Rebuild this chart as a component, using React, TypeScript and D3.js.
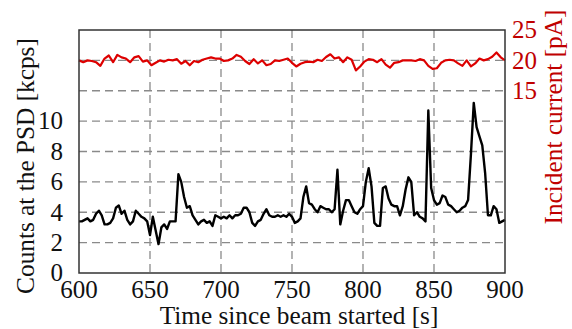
import * as d3 from 'd3';

// sampled every 2 s from 600 s to 900 s
const countStart = 600;
const countStep = 2;
const countValues = [
  3.4, 3.4, 3.5, 3.6, 3.4, 3.5, 3.9, 4.1, 3.8, 3.2, 3.2, 3.3, 3.6, 4.3, 4.45, 3.9, 4.1, 3.5, 3.2, 3.4,
  4.1, 3.9, 3.7, 3.6, 3.4, 2.5, 3.7, 2.8, 1.9, 3.0, 3.2, 2.9, 3.4, 3.4, 3.4, 6.5, 6.0, 5.0, 4.3, 4.4,
  3.8, 3.5, 3.2, 3.4, 3.5, 3.3, 3.4, 3.1, 3.8, 3.7, 3.6, 3.7, 3.6, 3.8, 3.6, 3.8, 3.8, 3.9, 4.3, 4.3,
  4.0, 3.3, 3.1, 3.4, 3.5, 3.9, 4.2, 3.8, 3.7, 3.7, 3.8, 3.7, 3.8, 3.7, 3.9, 3.7, 3.3, 3.4, 3.6, 5.0,
  5.7, 4.6, 4.5, 4.2, 4.0, 4.4, 4.3, 4.2, 4.2, 4.0, 4.2, 6.8, 3.2, 4.1, 4.8, 4.8, 4.4, 4.0, 3.9, 4.2,
  4.4, 6.0, 6.9, 5.7, 3.3, 3.1, 3.1, 5.6, 5.7, 4.9, 4.5, 4.4, 4.4, 3.8, 4.4, 5.5, 6.3, 6.0, 3.8, 4.0,
  3.7, 3.6, 3.4, 10.7, 5.6, 4.8, 4.5, 4.6, 5.1, 5.0, 4.5, 4.4, 4.2, 4.0, 4.1, 4.3, 4.4, 4.8, 7.8, 11.2,
  9.6, 9.0, 8.4, 6.6, 3.8, 3.8, 4.4, 4.2, 3.3, 3.4, 3.5,
];

// sampled every 3 s from 600 s to 900 s
const currentStart = 600;
const currentStep = 3;
const currentValues = [
  20.0, 19.7, 20.0, 19.9, 19.7, 19.1, 20.3, 20.8, 19.7, 20.9, 20.5, 20.3, 19.7, 20.5, 20.7, 19.8, 20.0,
  19.2, 19.6, 20.0, 19.8, 20.1, 20.0, 20.2, 19.45, 19.9, 19.2, 19.9, 19.7, 20.1, 20.3, 20.5, 20.3, 20.3,
  19.9, 20.0, 20.3, 20.9, 20.6, 19.9, 19.4, 20.2, 19.5, 20.0, 19.2, 19.4, 20.0, 19.9, 20.1, 20.3,
  19.6, 19.0, 19.45, 19.7, 19.8, 19.7, 20.1, 19.9, 20.55, 21.0, 20.3, 20.5, 19.7, 20.5, 20.1, 18.35,
  19.0, 19.8, 20.2, 20.1, 19.7, 20.2, 19.3, 18.8, 19.6, 19.7, 20.0, 20.0, 20.0, 19.9, 20.2, 20.0, 19.1,
  18.6, 18.7, 19.6, 20.0, 20.1, 20.0, 19.5, 19.1, 20.0, 19.0, 19.5, 20.3, 20.0, 20.2, 20.6, 21.3,
  20.5, 20.0,
];

const xTicks = [600, 650, 700, 750, 800, 850, 900];
const leftTicks = [0, 2, 4, 6, 8, 10];
const leftGrid = [2, 4, 6, 8, 10, 12, 14];
const rightTicks = [15, 20, 25];

const W = 572;
const H = 329;
const plot = { left: 79, right: 505, top: 30, bottom: 273 };
const font = '"Liberation Serif", "Times New Roman", serif';
const red = '#dd0000';
const axisRed = '#c00000';
const tickSize = 25;
const titleSize = 25.3;

export default function App() {
  const x = d3.scaleLinear().domain([600, 900]).range([plot.left, plot.right]);
  const yL = d3.scaleLinear().domain([0, 16]).range([plot.bottom, plot.top]);
  const yR = d3.scaleLinear().domain([-15, 25]).range([plot.bottom, plot.top]);

  const countLine = d3
    .line<number>()
    .x((_, i) => x(countStart + i * countStep))
    .y((d) => yL(d));
  const currentLine = d3
    .line<number>()
    .x((_, i) => x(currentStart + i * currentStep))
    .y((d) => yR(d));

  const gridStyle = { stroke: '#8a8a8a', strokeWidth: 1.3, strokeDasharray: '8 5' };

  return (
    <div style={{ position: 'fixed', left: 0, top: 0, background: '#fff' }}>
      <svg width={W} height={H} style={{ display: 'block' }} fontFamily={font}>
        <rect x={0} y={0} width={W} height={H} fill="#fff" />
        {xTicks.slice(1, -1).map((t) => (
          <line key={'vx' + t} x1={x(t)} x2={x(t)} y1={plot.top} y2={plot.bottom} {...gridStyle} />
        ))}
        {leftGrid.map((v) => (
          <line key={'hy' + v} x1={plot.left} x2={plot.right} y1={yL(v)} y2={yL(v)} {...gridStyle} />
        ))}

        <path
          d={currentLine(currentValues) ?? ''}
          fill="none"
          stroke={red}
          strokeWidth={2.2}
          strokeLinejoin="round"
        />
        <path
          d={countLine(countValues) ?? ''}
          fill="none"
          stroke="#000"
          strokeWidth={2.4}
          strokeLinejoin="round"
        />

        <rect
          x={plot.left}
          y={plot.top}
          width={plot.right - plot.left}
          height={plot.bottom - plot.top}
          fill="none"
          stroke="#333"
          strokeWidth={1.5}
        />

        {xTicks.map((t) => (
          <text key={'xt' + t} x={x(t)} y={298} textAnchor="middle" fontSize={tickSize} fill="#111">
            {t}
          </text>
        ))}
        {leftTicks.map((v) => (
          <text key={'yl' + v} x={63} y={yL(v)} dy="0.33em" textAnchor="end" fontSize={tickSize} fill="#111">
            {v}
          </text>
        ))}
        {rightTicks.map((v) => (
          <text key={'yr' + v} x={512} y={yR(v)} dy="0.33em" textAnchor="start" fontSize={tickSize} fill={axisRed}>
            {v}
          </text>
        ))}

        <text x={299} y={324} textAnchor="middle" fontSize={titleSize} fill="#111">
          Time since beam started [s]
        </text>
        <text
          transform={`translate(34,166) rotate(-90)`}
          textAnchor="middle"
          fontSize={titleSize}
          fill="#111"
        >
          Counts at the PSD [kcps]
        </text>
        <text
          transform={`translate(562,117) rotate(-90)`}
          textAnchor="middle"
          fontSize={titleSize}
          fill={axisRed}
        >
          Incident current [pA]
        </text>
      </svg>
    </div>
  );
}
